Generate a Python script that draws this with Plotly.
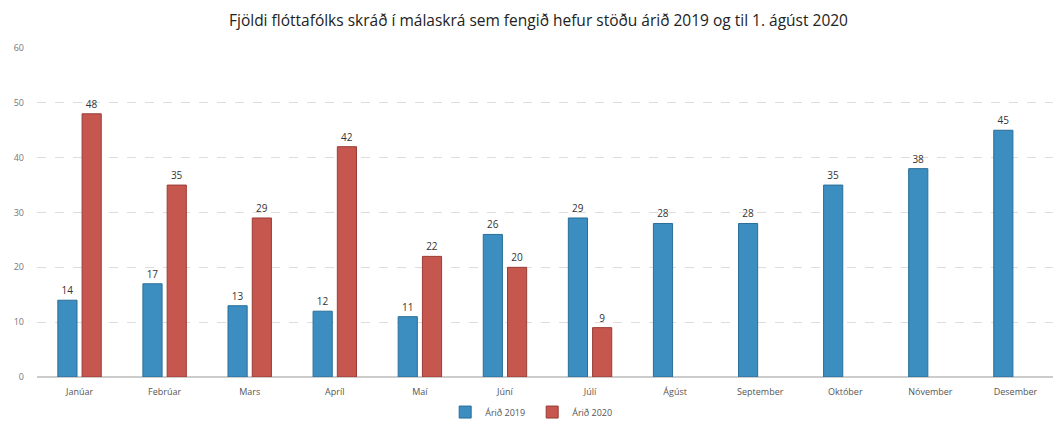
import plotly.graph_objects as go

months = ["Janúar", "Febrúar", "Mars", "Apríl", "Maí", "Júní", "Júlí",
          "Ágúst", "September", "Október", "Nóvember", "Desember"]
arid_2019 = [14, 17, 13, 12, 11, 26, 29, 28, 28, 35, 38, 45]
arid_2020 = [48, 35, 29, 42, 22, 20, 9, None, None, None, None, None]
y_ticks = [0, 10, 20, 30, 40, 50, 60]

fig = go.Figure()
fig.add_trace(go.Bar(
    x=months, y=arid_2019, name="Árið 2019",
    marker=dict(color="#3C8DC0", line=dict(color="#2A6E99", width=1)),
    text=arid_2019, textposition="outside",
    textfont=dict(size=10, color="#333333", family="Open Sans"),
    cliponaxis=False,
))
fig.add_trace(go.Bar(
    x=months, y=arid_2020, name="Árið 2020",
    marker=dict(color="#C5574F", line=dict(color="#9A3C36", width=1)),
    text=[v if v is not None else "" for v in arid_2020], textposition="outside",
    textfont=dict(size=10, color="#333333", family="Open Sans"),
    cliponaxis=False,
))

fig.update_layout(
    width=1061, height=434,
    margin=dict(l=29, r=11, t=40, b=65, autoexpand=False),
    paper_bgcolor="white", plot_bgcolor="white",
    title=dict(text="Fjöldi flóttafólks skráð í málaskrá sem fengið hefur stöðu árið 2019 og til 1. ágúst 2020",
               x=0.5, xanchor="center", y=0.972, yanchor="middle",
               font=dict(size=15.5, color="#222222", family="Open Sans")),
    barmode="group", bargap=0.43, bargroupgap=0.21,
    font=dict(family="Open Sans", color="#666666", size=9),
    legend=dict(orientation="h", x=0.485, xanchor="center", yref="container", y=0.069, yanchor="middle",
                font=dict(size=9, color="#555555"), itemwidth=30, traceorder="normal",
                entrywidth=42, entrywidthmode="pixels"),
    xaxis=dict(showgrid=False, showline=False, ticks="", tickfont=dict(size=9, color="#555555"),
               ticklabelstandoff=8),
    yaxis=dict(range=[0, 60], tickvals=y_ticks, showgrid=True, gridcolor="#DDDDDD",
               griddash="dash", zeroline=True, zerolinecolor="#CCCCCC", showline=False,
               tickfont=dict(size=9, color="#777777"), ticklabelstandoff=12),
)

fig.write_html("out.html")
